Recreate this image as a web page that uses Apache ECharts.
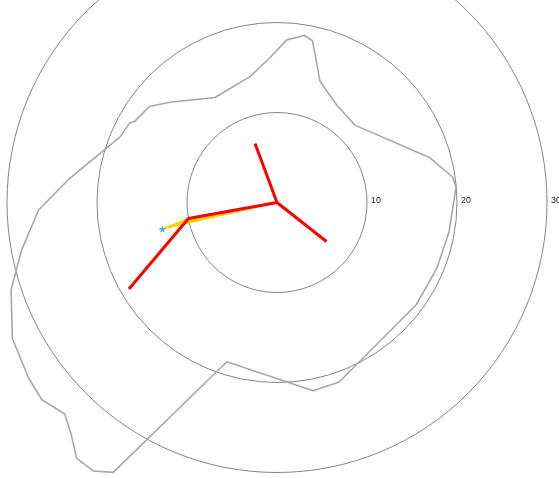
<!DOCTYPE html>
<html>
<head>
<meta charset="utf-8">
<script src="https://cdn.jsdelivr.net/npm/echarts@6/dist/echarts.min.js"></script>
<style>
  html, body { margin: 0; padding: 0; background: #ffffff; }
  #chart { width: 559px; height: 478px; }
</style>
</head>
<body>
<div id="chart"></div>
<script>
// Radial rings and their labels (the outer 40 ring only gives room for the outline)
const ringValues = [0, 10, 20, 30, 40];
const ringLabels = ['', '10', '20', '30', ''];

// Grey outline: radius and angle (degrees, counter-clockwise from east)
const outlineRadius = [19.97, 19.7, 17.7, 12.2, 12.7, 14.3, 18.4, 18.8, 18.1, 16.1,
  14.3, 13.55, 16.3, 17.75, 18.2, 18.6, 18.9, 23.3, 26.5, 28.85,
  31.1, 33.06, 33.8, 34.1, 33.3, 34.4, 36.1, 36.15, 35.07, 18.55,
  21.3, 21.1, 19.19, 19.21, 19.39, 19.97];
const outlineAngle = [4.95, 8.35, 16.3, 44.8, 58.5, 70.5, 77.6, 80.7, 86.6, 92.8,
  102.1, 120.6, 136.9, 143.1, 150.3, 151.7, 157.3, 173.7, 181.8, 190.5,
  198.2, 207.2, 215.3, 220.0, 224.9, 228.3, 231.9, 235.6, 238.75, 252.5,
  280.9, 289.1, 323.6, 337.7, 350.3, 4.95];

// Red arms from the origin
const armARadius = [7.0, 0, 7.0];
const armAAngle = [110.4, 0, 321.7];
const armBRadius = [0, 10.0, 19.05];
const armBAngle = [0, 190.2, 210.3];

// Yellow wedge (origin, elbow, starred point) and the starred point
const wedgeRadius = [0, 10.0, 13.07];
const wedgeAngle = [0, 190.2, 193.0];
const starRadius = [13.07];
const starAngle = [193.0];

const zip = (r, a) => r.map((v, i) => [v, a[i]]);

const starPath = 'path://M50,0 L61,35 L98,35 L68,57 L79,91 L50,70 L21,91 L32,57 L2,35 L39,35 Z';
const ringColors = ringValues.map(v => (v > 0 && v <= 30) ? '#858585' : 'rgba(0,0,0,0)');

const chart = echarts.init(document.getElementById('chart'), null, { renderer: 'canvas' });
chart.setOption({
  animation: false,
  backgroundColor: '#ffffff',
  polar: { center: [277, 202.5], radius: 360 },
  angleAxis: {
    type: 'value', min: 0, max: 360, startAngle: 0, clockwise: false,
    axisLine: { show: false }, axisTick: { show: false },
    axisLabel: { show: false }, splitLine: { show: false }
  },
  radiusAxis: {
    type: 'value', min: ringValues[0], max: ringValues[ringValues.length - 1], interval: 10,
    axisLine: { show: false }, axisTick: { show: false },
    splitLine: { show: true, lineStyle: { color: ringColors, width: 1 } },
    axisLabel: {
      show: true,
      formatter: v => ringLabels[ringValues.indexOf(v)] || '',
      align: 'left', verticalAlign: 'middle', margin: 2,
      padding: [0, 0, 0, 4],
      color: '#222222', fontSize: 9, fontFamily: 'Liberation Sans, Arial, sans-serif'
    }
  },
  series: [
    {
      type: 'line', coordinateSystem: 'polar', clip: false,
      data: zip(outlineRadius, outlineAngle), symbol: 'none',
      lineStyle: { color: '#a8a8a8', width: 1.6 }, z: 2
    },
    {
      type: 'custom', coordinateSystem: 'polar', clip: false,
      data: [0],
      renderItem: (params, api) => ({
        type: 'polygon',
        shape: { points: zip(wedgeRadius, wedgeAngle).map(p => api.coord(p)) },
        style: { fill: '#ffd400', stroke: '#ffd400', lineWidth: 1.5, lineJoin: 'round' }
      }),
      z: 3
    },
    {
      type: 'line', coordinateSystem: 'polar', clip: false,
      data: zip(armARadius, armAAngle), symbol: 'none',
      lineStyle: { color: '#ff0000', width: 3 }, z: 4
    },
    {
      type: 'line', coordinateSystem: 'polar', clip: false,
      data: zip(armBRadius, armBAngle), symbol: 'none',
      lineStyle: { color: '#ff0000', width: 3 }, z: 4
    },
    {
      type: 'scatter', coordinateSystem: 'polar', clip: false,
      data: zip(starRadius, starAngle), symbol: starPath, symbolSize: 8,
      itemStyle: { color: '#1e9fe3' }, z: 5
    }
  ]
});
</script>
</body>
</html>
